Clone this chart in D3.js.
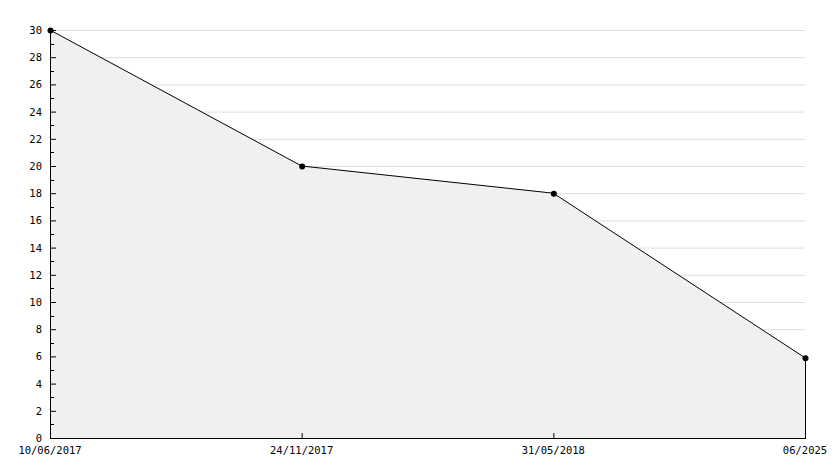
<!DOCTYPE html>
<html><head><meta charset="utf-8">
<script src="https://cdn.jsdelivr.net/npm/d3@7"></script>
<style>body{margin:0;background:#fff}svg{display:block}</style>
</head><body><svg id="c" width="834" height="468"></svg>
<script>
const categories = ["10/06/2017", "24/11/2017", "31/05/2018", "06/2025"];
const values = [30, 20, 18, 5.9];
const yTicks = [0,2,4,6,8,10,12,14,16,18,20,22,24,26,28,30];
const yMinor = [1,3,5,7,9,11,13,15,17,19,21,23,25,27,29];

const svg = d3.select("#c");
const L = 50, R = 805, T = 30, B = 438;
const x = d3.scalePoint().domain(categories).range([L, R]);
const y = d3.scaleLinear().domain([0, 30]).range([B, T]);
const font = "'DejaVu Sans Mono', monospace";

// grid
svg.append("g").selectAll("line").data(yTicks.filter(d => d > 0)).join("line")
  .attr("x1", L).attr("x2", R).attr("y1", d => y(d) + 0.5).attr("y2", d => y(d) + 0.5)
  .attr("stroke", "#dddddd").attr("stroke-width", 1);

// area
const pts = categories.map((c, i) => [x(c), y(values[i])]);
const area = d3.area().x(d => d[0]).y0(B).y1(d => d[1]);
svg.append("path").datum(pts).attr("d", area).attr("fill", "#f0f0f0");

// right edge vertical line
svg.append("line").attr("x1", R + 0.5).attr("x2", R + 0.5)
  .attr("y1", y(values[values.length - 1])).attr("y2", B).attr("stroke", "#000");

// line
svg.append("path").datum(pts).attr("d", d3.line()).attr("fill", "none")
  .attr("stroke", "#000").attr("stroke-width", 1);

// axes
svg.append("line").attr("x1", L + 0.5).attr("x2", L + 0.5).attr("y1", T - 2).attr("y2", B).attr("stroke", "#000");
svg.append("line").attr("x1", L).attr("x2", R + 1).attr("y1", B + 0.5).attr("y2", B + 0.5).attr("stroke", "#000");

svg.append("g").selectAll("line").data(yTicks).join("line")
  .attr("x1", L).attr("x2", L + 6).attr("y1", d => y(d) + 0.5).attr("y2", d => y(d) + 0.5).attr("stroke", "#000");
svg.append("g").selectAll("line").data(yMinor).join("line")
  .attr("x1", L).attr("x2", L + 4).attr("y1", d => Math.round(y(d)) + 0.5).attr("y2", d => Math.round(y(d)) + 0.5).attr("stroke", "#000");

svg.append("g").selectAll("text").data(yTicks).join("text")
  .attr("x", 42).attr("y", d => y(d) + 4).attr("text-anchor", "end")
  .attr("font-family", font).attr("font-size", 10.5).text(d => d);

svg.append("g").selectAll("line").data(categories).join("line")
  .attr("x1", d => x(d) + 0.5).attr("x2", d => x(d) + 0.5).attr("y1", B).attr("y2", B - 5).attr("stroke", "#000");

svg.append("g").selectAll("text").data(categories).join("text")
  .attr("x", d => x(d)).attr("y", 454).attr("text-anchor", "middle")
  .attr("font-family", font).attr("font-size", 10.5).text(d => d);

// markers
svg.append("g").selectAll("circle").data(pts).join("circle")
  .attr("cx", d => d[0] + 0.5).attr("cy", d => d[1] + 0.5).attr("r", 3).attr("fill", "#000");
</script></body></html>
